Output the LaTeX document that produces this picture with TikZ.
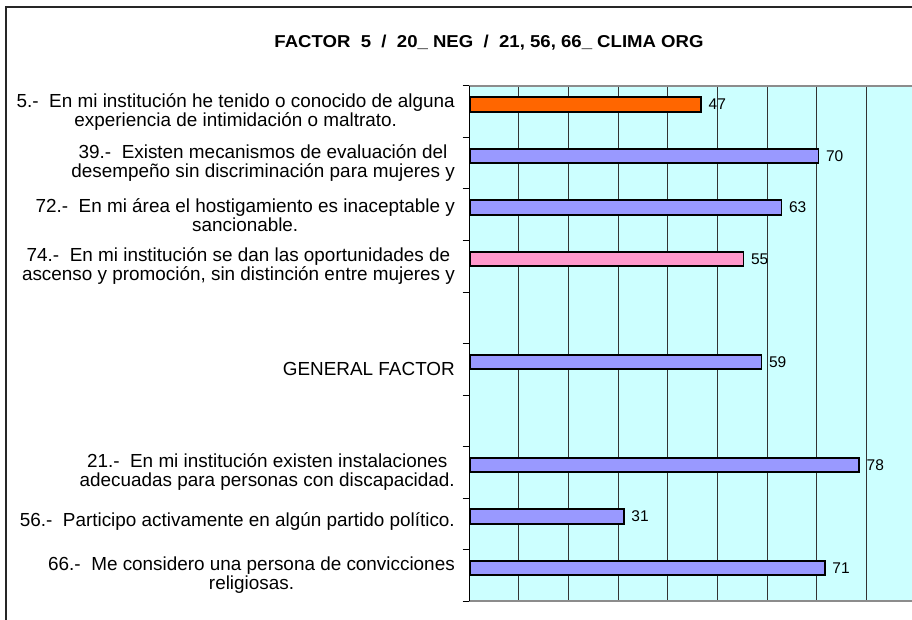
\documentclass[tikz,border=0pt]{standalone}
\usepackage{fontspec}
\setmainfont{Liberation Sans}
\definecolor{plotbg}{HTML}{CCFFFF}
\definecolor{barorange}{HTML}{FF6600}
\definecolor{barblue}{HTML}{9999FF}
\definecolor{barpink}{HTML}{FF99CC}
\definecolor{axisgray}{HTML}{8C8C8C}
\definecolor{framegray}{HTML}{262626}
\begin{document}
\begin{tikzpicture}[x=1pt,y=-1pt,
  lbl/.style={anchor=east,align=center,inner sep=0pt,font=\fontsize{18.9}{19}\selectfont},
  val/.style={anchor=west,inner sep=0pt,font=\fontsize{15.5}{15}\selectfont},
  barbox/.style={draw=black,line width=1.7pt,anchor=west,inner sep=0pt,minimum height=14.4pt},
  gridl/.style={draw=black!80,line width=1pt},
  ttl/.style={inner sep=0pt,font=\bfseries\fontsize{17.2}{17}\selectfont}]
\clip (0,0) rectangle (912,620);
\fill[white] (0,0) rectangle (912,620);
% outer frame
\draw[line width=2pt,framegray] (5.7,640) -- (5.7,7.3) -- (930,7.3);
% title
\node[ttl] (title) at (489,43) {\scalebox{1.08}[1]{FACTOR\ \ 5\ \ /\ \ 20\_ NEG\ \ /\ \ 21, 56, 66\_ CLIMA ORG}};
% plot area
\fill[plotbg] (469.3,86) rectangle (930,601);
\foreach \k in {1,...,8} {
  \draw[gridl] ({469.3+49.625*\k},86) -- ({469.3+49.625*\k},601);
}
\draw[axisgray,line width=1.5pt] (469.3,86) -- (930,86);
\draw[axisgray,line width=1.5pt] (469.3,601) -- (930,601);
\draw[black,line width=1.5pt] (469.3,86) -- (469.3,601);
\foreach \i in {0,...,10} {
  \draw[black,line width=1pt] (462.5,{86+51.5*\i}) -- (469.3,{86+51.5*\i});
}
% bars and values
\foreach \i/\w/\c/\v in {0/231.0/barorange/47, 1/348.4/barblue/70, 2/311.4/barblue/63, 3/273.4/barpink/55, 5/291.4/barblue/59, 7/389.0/barblue/78, 8/153.7/barblue/31, 9/354.7/barblue/71} {
  \node[barbox,fill=\c,minimum width=\w pt] (b\i) at (469.3,{86+51.5*\i+18.5}) {};
  \node[val] (v\i) at ([xshift=6.5pt]b\i.east) {\v};
}
% category labels
\node[lbl] (l0) at (455,111.75) {5.-\ \ En mi institución he tenido o conocido de alguna\\experiencia de intimidación o maltrato.};
\node[lbl] (l1) at (455,163.25) {39.-\ \ Existen mecanismos de evaluación del\\desempeño sin discriminación para mujeres y};
\node[lbl] (l2) at (455,214.75) {72.-\ \ En mi área el hostigamiento es inaceptable y\\sancionable.};
\node[lbl] (l3) at (455,266.25) {74.-\ \ En mi institución se dan las oportunidades de\\ascenso y promoción, sin distinción entre mujeres y};
\node[lbl] (l5) at (455,369.25) {GENERAL FACTOR};
\node[lbl] (l7) at (455,472.25) {21.-\ \ En mi institución existen instalaciones\\adecuadas para personas con discapacidad.};
\node[lbl] (l8) at (455,521.5) {56.-\ \ Participo activamente en algún partido político.};
\node[lbl] (l9) at (455,575.25) {66.-\ \ Me considero una persona de convicciones\\religiosas.};
\end{tikzpicture}
\end{document}
